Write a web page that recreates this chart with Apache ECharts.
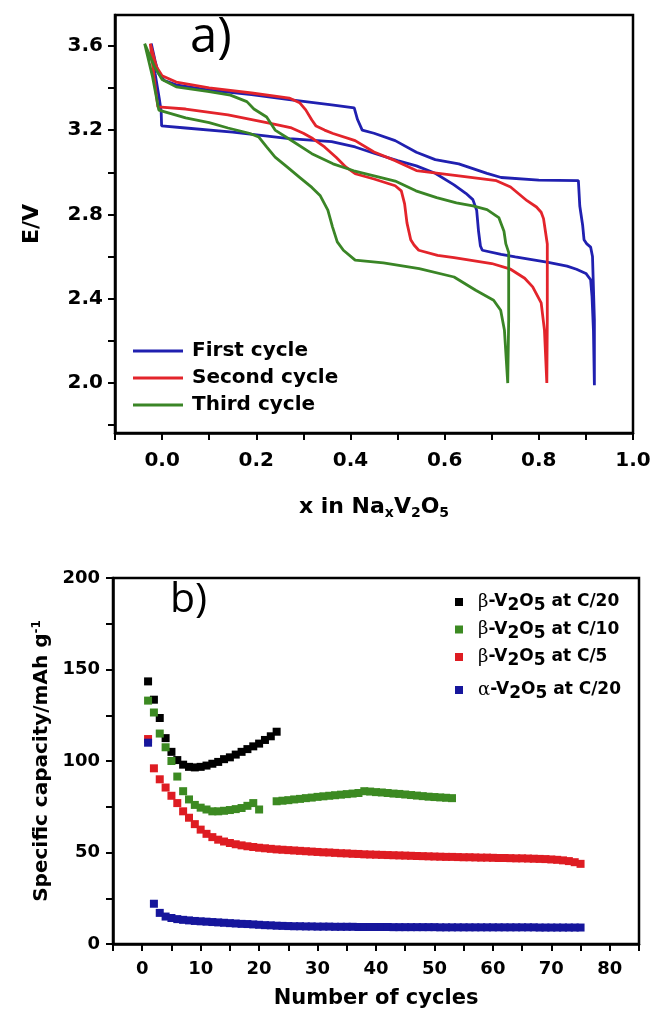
<!DOCTYPE html>
<html>
<head>
<meta charset="utf-8">
<script src="https://cdn.jsdelivr.net/npm/echarts@6/dist/echarts.min.js"></script>
<style>
  html, body { margin: 0; padding: 0; background: #fff; }
  #main { width: 654px; height: 1011px; }
</style>
</head>
<body>
<div id="main"></div>
<script>
// ========== a) 充放电曲线 [x, E] ==========
const firstCycle = [
  [-0.023, 3.61], [-0.015, 3.47], [-0.006, 3.35], [-0.002, 3.29], [-0.001, 3.22],
  [0.05, 3.21], [0.15, 3.19], [0.27, 3.16], [0.36, 3.145], [0.41, 3.12], [0.45, 3.09],
  [0.5, 3.055], [0.54, 3.03], [0.58, 2.995], [0.62, 2.94], [0.645, 2.9], [0.66, 2.87],
  [0.668, 2.82], [0.672, 2.72], [0.676, 2.65], [0.68, 2.63], [0.72, 2.61], [0.75, 2.598],
  [0.82, 2.573], [0.86, 2.555], [0.88, 2.54], [0.9, 2.52], [0.91, 2.49], [0.913, 2.41],
  [0.916, 2.25], [0.918, 1.99],
  [0.918, 2.3], [0.914, 2.6], [0.91, 2.645], [0.902, 2.66], [0.896, 2.68], [0.893, 2.75],
  [0.887, 2.84], [0.884, 2.96], [0.8, 2.963], [0.72, 2.975], [0.69, 2.995], [0.63, 3.04],
  [0.58, 3.06], [0.54, 3.095], [0.495, 3.15], [0.45, 3.185], [0.425, 3.2], [0.415, 3.25],
  [0.408, 3.305], [0.36, 3.32], [0.27, 3.345], [0.19, 3.368], [0.1, 3.39], [0.03, 3.415],
  [0.005, 3.435], [-0.008, 3.47], [-0.015, 3.53], [-0.023, 3.61]
];
const secondCycle = [
  [-0.025, 3.61], [-0.017, 3.45], [-0.009, 3.31], [0.05, 3.3], [0.14, 3.272], [0.23, 3.232],
  [0.275, 3.21], [0.3, 3.185], [0.32, 3.16], [0.345, 3.12], [0.37, 3.07], [0.39, 3.025],
  [0.41, 2.993], [0.45, 2.968], [0.495, 2.936], [0.508, 2.912], [0.515, 2.85], [0.52, 2.76],
  [0.528, 2.68], [0.535, 2.655], [0.545, 2.63], [0.585, 2.606], [0.62, 2.595], [0.7, 2.567],
  [0.74, 2.54], [0.77, 2.497], [0.787, 2.456], [0.805, 2.38], [0.812, 2.25], [0.817, 2.0],
  [0.818, 2.3], [0.818, 2.66], [0.814, 2.72], [0.81, 2.78], [0.805, 2.81], [0.795, 2.835],
  [0.775, 2.865], [0.74, 2.93], [0.71, 2.96], [0.63, 2.983], [0.54, 3.008], [0.495, 3.055],
  [0.45, 3.096], [0.41, 3.15], [0.363, 3.184], [0.345, 3.2], [0.327, 3.219], [0.318, 3.248],
  [0.305, 3.296], [0.292, 3.33], [0.27, 3.352], [0.19, 3.376], [0.1, 3.4], [0.03, 3.428],
  [0.0, 3.458], [-0.012, 3.5], [-0.025, 3.61]
];
const thirdCycle = [
  [-0.037, 3.61], [-0.02, 3.45], [-0.007, 3.295], [0.05, 3.258], [0.1, 3.235], [0.14, 3.21],
  [0.185, 3.185], [0.205, 3.168], [0.222, 3.12], [0.24, 3.072], [0.266, 3.024], [0.292, 2.976],
  [0.318, 2.928], [0.336, 2.888], [0.352, 2.82], [0.362, 2.74], [0.372, 2.67], [0.385, 2.63],
  [0.41, 2.583], [0.47, 2.57], [0.546, 2.543], [0.62, 2.503], [0.666, 2.44], [0.704, 2.393],
  [0.719, 2.345], [0.727, 2.25], [0.734, 2.0],
  [0.736, 2.3], [0.736, 2.62], [0.73, 2.66], [0.726, 2.72], [0.715, 2.785], [0.69, 2.823],
  [0.66, 2.84], [0.625, 2.855], [0.583, 2.88], [0.539, 2.912], [0.495, 2.958], [0.45, 2.983],
  [0.407, 3.007], [0.363, 3.04], [0.318, 3.088], [0.274, 3.152], [0.24, 3.2], [0.222, 3.262],
  [0.195, 3.3], [0.18, 3.335], [0.145, 3.366], [0.1, 3.383], [0.03, 3.405], [0.0, 3.44],
  [-0.016, 3.5], [-0.037, 3.61]
];

// ========== b) 循环性能 (第 n 次循环 = 下标 + 1) ==========
const betaC20 = [143.5, 133.5, 123.5, 112.5, 105, 100.5, 98, 96.8, 96.5, 96.8, 97.5, 98.5,
  99.5, 101, 102, 103.5, 105, 106.5, 108, 109.5, 111.5, 113.5, 116];
const betaC10 = [133, 126.5, 115, 107.5, 100, 91.5, 83.5, 79, 76, 74.5, 73.5, 72.5, 72.5,
  72.8, 73.2, 73.7, 74.3, 75.5, 77, 73.5, null, null, 78, 78.3, 78.6, 79, 79.3, 79.7, 80,
  80.4, 80.7, 81, 81.3, 81.6, 81.9, 82.2, 82.5, 83.5, 83.3, 83, 82.8, 82.5, 82.2, 82, 81.7,
  81.4, 81.1, 80.8, 80.5, 80.3, 80.1, 79.9, 79.7];
const betaC5 = [112, 96, 90, 85.5, 81, 77, 72.5, 69, 65.5, 62.5, 60.2, 58.4, 57, 56, 55.2,
  54.5, 53.9, 53.4, 53, 52.6, 52.3, 52, 51.7, 51.5, 51.3, 51.1, 50.9, 50.7, 50.5, 50.3, 50.1,
  50, 49.8, 49.6, 49.5, 49.3, 49.2, 49, 48.9, 48.8, 48.7, 48.6, 48.5, 48.4, 48.3, 48.2, 48.1,
  48, 47.9, 47.8, 47.7, 47.6, 47.6, 47.5, 47.4, 47.4, 47.3, 47.2, 47.2, 47.1, 47, 47, 46.9,
  46.8, 46.8, 46.7, 46.6, 46.5, 46.4, 46.2, 46, 45.7, 45.3, 44.7, 43.8];
const alphaC20 = [110, 22, 17, 15, 14.2, 13.6, 13.2, 12.9, 12.6, 12.4, 12.2, 12, 11.8, 11.6,
  11.4, 11.2, 11, 10.9, 10.7, 10.5, 10.3, 10.2, 10, 9.9, 9.8, 9.7, 9.7, 9.6, 9.6, 9.5, 9.5,
  9.5, 9.4, 9.4, 9.4, 9.4, 9.3, 9.3, 9.3, 9.3, 9.3, 9.3, 9.2, 9.2, 9.2, 9.2, 9.2, 9.2, 9.2,
  9.2, 9.1, 9.1, 9.1, 9.1, 9.1, 9.1, 9.1, 9.1, 9.1, 9.1, 9.1, 9.1, 9.1, 9.1, 9.1, 9.1, 9.1,
  9.0, 9.0, 9.0, 9.0, 9.0, 9.0, 9.0, 9.0];

// 刻度
const xTicks = [-0.1, 0, 0.1, 0.2, 0.3, 0.4, 0.5, 0.6, 0.7, 0.8, 0.9, 1.0];
const xLabels = [0, 0.2, 0.4, 0.6, 0.8, 1.0];
const eTicks = [1.8, 2.0, 2.2, 2.4, 2.6, 2.8, 3.0, 3.2, 3.4, 3.6];
const eLabels = [2.0, 2.4, 2.8, 3.2, 3.6];
const cycleTicks = [-5, 0, 5, 10, 15, 20, 25, 30, 35, 40, 45, 50, 55, 60, 65, 70, 75, 80, 85];
const cycleLabels = [0, 10, 20, 30, 40, 50, 60, 70, 80];
const capTicks = [0, 25, 50, 75, 100, 125, 150, 175, 200];
const capLabels = [0, 50, 100, 150, 200];

// ========== 配置 ==========
const FONT = 'DejaVu Sans';
const toPairs = arr => arr.map((v, i) => [i + 1, v]);

const lineAxis = { onZero: false, lineStyle: { color: '#000', width: 2.5 } };
const tickStyle = (vals) => ({ show: true, inside: false, length: 7, customValues: vals,
  lineStyle: { color: '#000', width: 2 } });
const labelStyle = (vals, size, margin, fmt) => ({ customValues: vals, fontSize: size,
  fontWeight: 'bold', fontFamily: FONT, color: '#000', margin: margin, formatter: fmt });

const chemText = n => n.replace(/^([βα])-V2O5/, '{g|$1}-V{s|2}O{s|5}');
const chemStyle = {
  fontSize: 17, fontWeight: 'bold', fontFamily: FONT, color: '#000', padding: [0, 0, 0, 10],
  rich: {
    g: { fontFamily: 'DejaVu Serif', fontSize: 18, fontWeight: 'normal', color: '#000' },
    s: { fontFamily: FONT, fontSize: 17, fontWeight: 'bold', color: '#000',
      verticalAlign: 'bottom', padding: [8, 0, 0, 0] }
  }
};

const chart = echarts.init(document.getElementById('main'));
chart.setOption({
  animation: false,
  backgroundColor: '#fff',
  title: [
    { text: 'a)', left: 190, top: 14, padding: 0,
      textStyle: { fontFamily: 'Open Sans', fontWeight: 'normal', fontSize: 49, color: '#000' } },
    { text: 'b)', left: 170, top: 580, padding: 0,
      textStyle: { fontFamily: 'Open Sans', fontWeight: 'normal', fontSize: 41, color: '#000' } }
  ],
  grid: [
    { left: 115, right: 21, top: 15, height: 418, show: true, borderColor: '#000', borderWidth: 2.5,
      outerBoundsMode: 'none' },
    { left: 113, right: 15, top: 578, height: 366, show: true, borderColor: '#000', borderWidth: 2.5,
      outerBoundsMode: 'none' }
  ],
  legend: [
    { data: ['First cycle', 'Second cycle', 'Third cycle'], orient: 'vertical', left: 133, top: 341,
      padding: 0, itemWidth: 50, itemHeight: 3, itemGap: 7,
      icon: 'path://M0,0 L50,0 L50,3 L0,3 Z',
      textStyle: { fontSize: 20, fontWeight: 'bold', fontFamily: FONT, color: '#000', lineHeight: 20,
        padding: [0, 0, 0, 4] } },
    { data: ['β-V2O5 at C/20', 'β-V2O5 at C/10', 'β-V2O5 at C/5'], orient: 'vertical',
      left: 455, top: 593, padding: 0, icon: 'rect', itemWidth: 8, itemHeight: 8, itemGap: 6,
      formatter: chemText, textStyle: chemStyle },
    { data: ['α-V2O5 at C/20'], orient: 'vertical', left: 455, top: 681, padding: 0, icon: 'rect',
      itemWidth: 8, itemHeight: 8, formatter: chemText, textStyle: chemStyle }
  ],
  xAxis: [
    { type: 'value', gridIndex: 0, min: -0.1, max: 1.0,
      axisLine: lineAxis, axisTick: tickStyle(xTicks),
      axisLabel: labelStyle(xLabels, 20, 18, v => v.toFixed(1)),
      splitLine: { show: false },
      name: 'x in Na{s|x}V{s|2}O{s|5}', nameLocation: 'middle', nameGap: 61,
      nameTextStyle: { fontSize: 22, fontWeight: 'bold', fontFamily: FONT, color: '#000',
        rich: { s: { fontSize: 14, fontWeight: 'bold', fontFamily: FONT, color: '#000',
          verticalAlign: 'bottom', padding: [12, 0, 0, 0] } } } },
    { type: 'value', gridIndex: 1, min: -5, max: 85,
      axisLine: lineAxis, axisTick: tickStyle(cycleTicks),
      axisLabel: labelStyle(cycleLabels, 18, 16, v => String(v)),
      splitLine: { show: false },
      name: 'Number of cycles', nameLocation: 'middle', nameGap: 44,
      nameTextStyle: { fontSize: 21, fontWeight: 'bold', fontFamily: FONT, color: '#000' } }
  ],
  yAxis: [
    { type: 'value', gridIndex: 0, min: 1.763, max: 3.746,
      axisLine: lineAxis, axisTick: tickStyle(eTicks),
      axisLabel: labelStyle(eLabels, 20, 12, v => v.toFixed(1)),
      splitLine: { show: false },
      name: 'E/V', nameLocation: 'middle', nameGap: 72,
      nameTextStyle: { fontSize: 22, fontWeight: 'bold', fontFamily: FONT, color: '#000' } },
    { type: 'value', gridIndex: 1, min: 0, max: 200,
      axisLine: lineAxis, axisTick: tickStyle(capTicks),
      axisLabel: labelStyle(capLabels, 18, 13, v => String(v)),
      splitLine: { show: false },
      name: 'Specific capacity/mAh g{sup|-1}', nameLocation: 'middle', nameGap: 56,
      nameTextStyle: { fontSize: 20, fontWeight: 'bold', fontFamily: FONT, color: '#000',
        rich: { sup: { fontSize: 12, fontWeight: 'bold', fontFamily: FONT, color: '#000',
          verticalAlign: 'top', padding: [0, 0, 10, 0] } } } }
  ],
  series: [
    { name: 'First cycle', type: 'line', xAxisIndex: 0, yAxisIndex: 0, data: firstCycle,
      symbol: 'none', lineStyle: { color: '#2020b0', width: 2.8 }, itemStyle: { color: '#2020b0' } },
    { name: 'Second cycle', type: 'line', xAxisIndex: 0, yAxisIndex: 0, data: secondCycle,
      symbol: 'none', lineStyle: { color: '#e3242b', width: 2.8 }, itemStyle: { color: '#e3242b' } },
    { name: 'Third cycle', type: 'line', xAxisIndex: 0, yAxisIndex: 0, data: thirdCycle,
      symbol: 'none', lineStyle: { color: '#3a8526', width: 2.8 }, itemStyle: { color: '#3a8526' } },
    { name: 'β-V2O5 at C/20', type: 'scatter', xAxisIndex: 1, yAxisIndex: 1, data: toPairs(betaC20),
      symbol: 'rect', symbolSize: 8, itemStyle: { color: '#000', opacity: 1 } },
    { name: 'β-V2O5 at C/10', type: 'scatter', xAxisIndex: 1, yAxisIndex: 1, data: toPairs(betaC10),
      symbol: 'rect', symbolSize: 8, itemStyle: { color: '#3c8a22', opacity: 1 } },
    { name: 'β-V2O5 at C/5', type: 'scatter', xAxisIndex: 1, yAxisIndex: 1, data: toPairs(betaC5),
      symbol: 'rect', symbolSize: 8, itemStyle: { color: '#de1c22', opacity: 1 } },
    { name: 'α-V2O5 at C/20', type: 'scatter', xAxisIndex: 1, yAxisIndex: 1, data: toPairs(alphaC20),
      symbol: 'rect', symbolSize: 8, itemStyle: { color: '#16169c', opacity: 1 } }
  ]
});
</script>
</body>
</html>
